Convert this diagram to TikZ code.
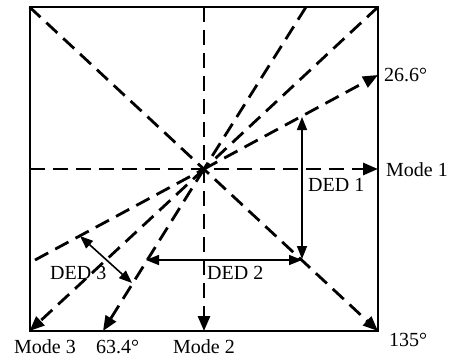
\documentclass[tikz,border=0pt]{standalone}
\usepackage{fontspec}
\setmainfont{Liberation Serif}
\usetikzlibrary{arrows.meta}
\begin{document}
\begin{tikzpicture}[x=1pt,y=-1pt,
  frame/.style={line width=2pt},
  dline/.style={line width=2.8pt,dash pattern=on 15pt off 8pt},
  darr/.style={dline,-{Triangle[length=15pt,width=12pt]}},
  dedarr/.style={line width=1.6pt,{Triangle[length=13pt,width=10pt]}-{Triangle[length=13pt,width=10pt]}},
  lbl/.style={inner sep=0pt,anchor=west,font=\fontsize{20}{24}\selectfont}]
\useasboundingbox (0,0) rectangle (454,360);
% corners and key points
\coordinate (TL) at (29.5,7);
\coordinate (TR) at (378,7);
\coordinate (BL) at (29.5,331);
\coordinate (BR) at (378,331);
\coordinate (C) at (204,169);
\coordinate (L1) at (29.5,169);
\coordinate (R1) at (378,169);
\coordinate (T2) at (204,7);
\coordinate (B2) at (204,331);
\coordinate (P26) at (378,75);
\coordinate (Q26) at (35,260);
\coordinate (T63) at (306,7);
\coordinate (B63) at (103,331);
\coordinate (D1a) at (302,117);
\coordinate (D1b) at (302,259);
\coordinate (D2a) at (146,260);
\coordinate (D2b) at (302,260);
\coordinate (D3a) at (80,236);
\coordinate (D3b) at (132,283);
% frame
\draw[frame] (TL) rectangle (BR);
% dashed lines
\draw[darr] (L1) -- (R1);
\draw[darr] (T2) -- (B2);
\draw[darr] (TL) -- (BR);
\draw[dline] (TR) -- (C);
\draw[darr] (C) -- (BL);
\draw[dline] (Q26) -- (C);
\draw[darr] (C) -- (P26);
\draw[dline] (T63) -- (C);
\draw[darr] (C) -- (B63);
% DED arrows
\draw[dedarr] (D1a) -- (D1b);
\draw[dedarr] (D2a) -- (D2b);
\draw[dedarr] (D3a) -- (D3b);
% labels
\node[lbl] (l26) at (384,75) {26.6°};
\node[lbl] (lm1) at (386,170) {Mode 1};
\node[lbl] (ld1) at (308,185) {DED 1};
\node[lbl] (ld2) at (207,273) {DED 2};
\node[lbl] (ld3) at (50,273) {DED 3};
\node[lbl] (l135) at (389,340) {135°};
\node[lbl] (lm3) at (14,347) {Mode 3};
\node[lbl] (l63) at (96,347) {63.4°};
\node[lbl] (lm2) at (173,347) {Mode 2};
\end{tikzpicture}
\end{document}
